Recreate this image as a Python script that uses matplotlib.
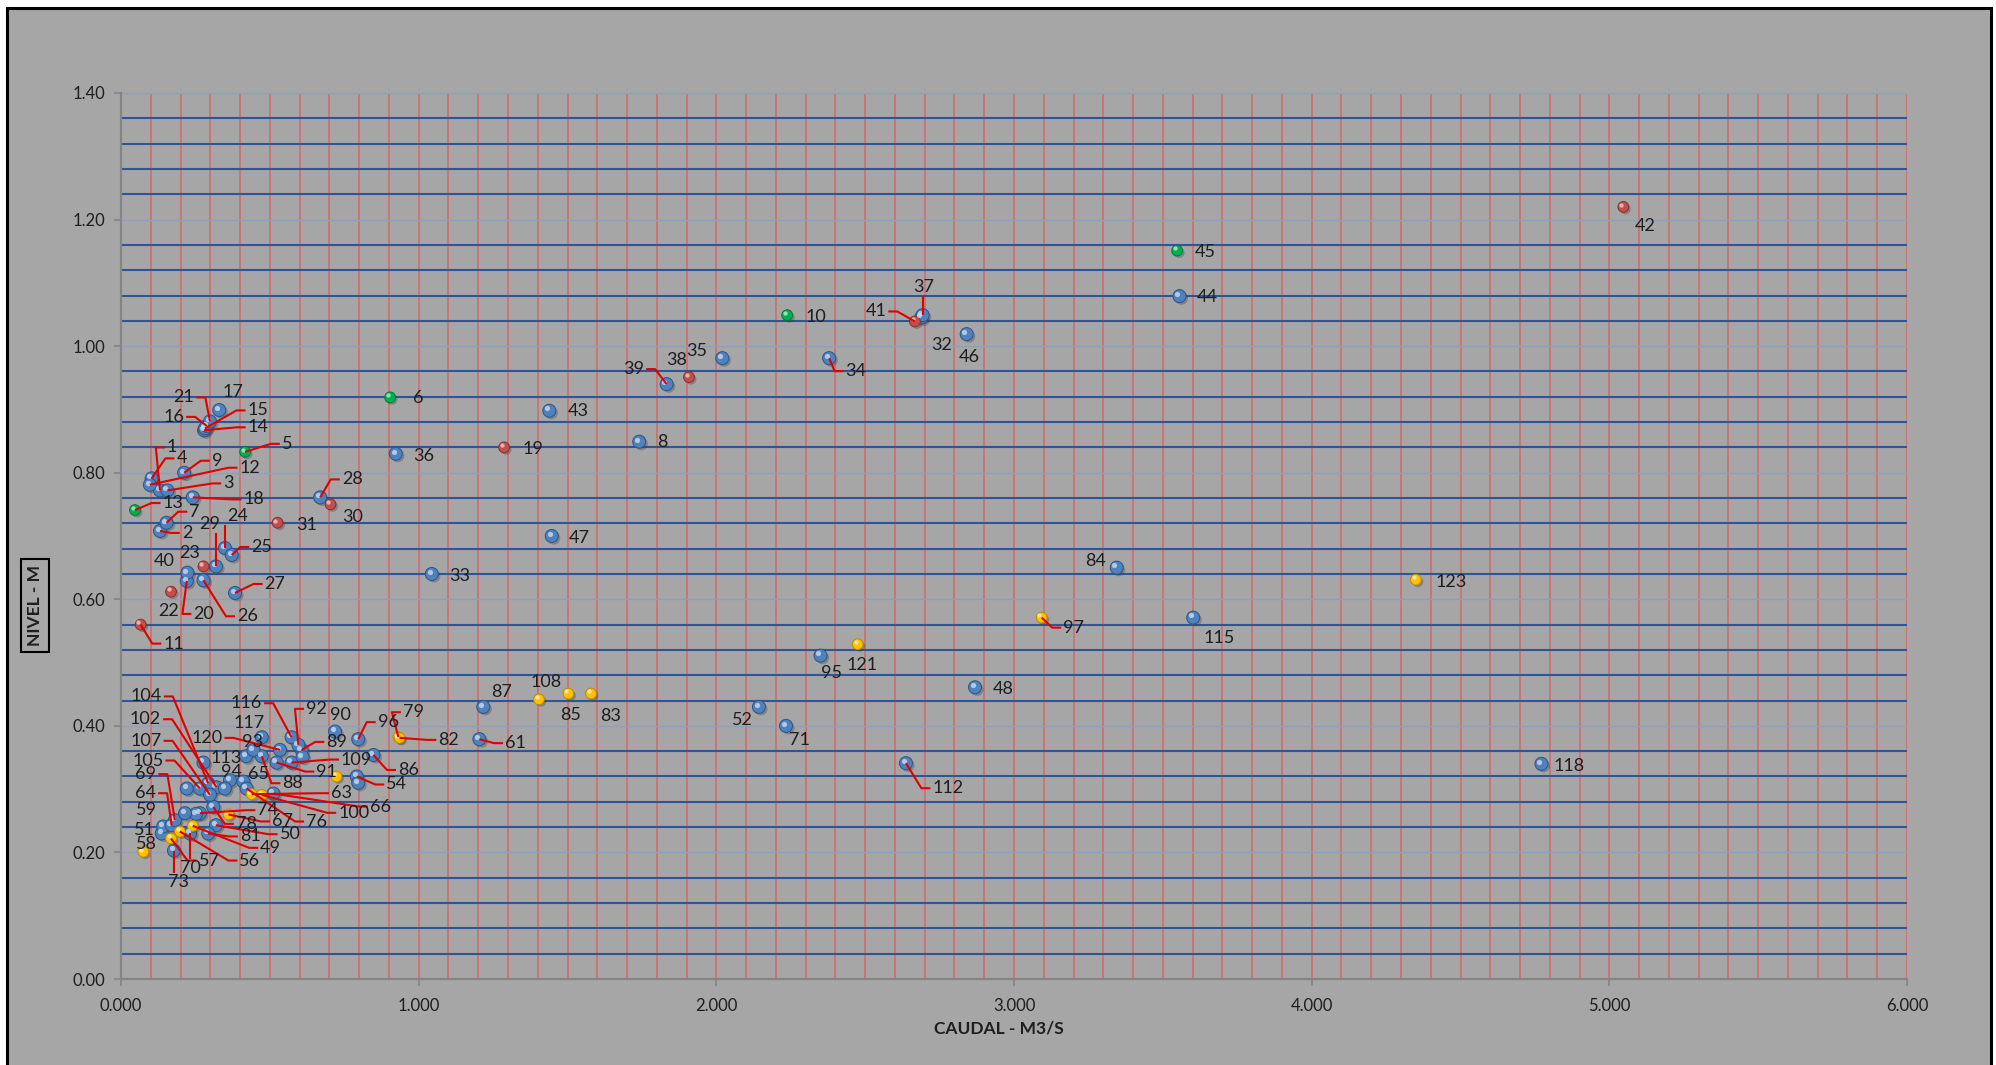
import matplotlib
matplotlib.use("Agg")
import matplotlib.pyplot as plt
import matplotlib.patheffects as pe
from matplotlib import font_manager
from matplotlib.patches import Rectangle
from matplotlib.ticker import MultipleLocator, FormatStrFormatter
from matplotlib.transforms import offset_copy

# aforos: numero de punto, caudal (m3/s), nivel (m) y grupo de color
ids = ["1", "2", "3", "4", "5", "6", "7", "8", "9", "10",
       "11", "12", "13", "14", "15", "16", "17", "18", "19", "20",
       "21", "22", "23", "24", "25", "26", "27", "28", "29", "30",
       "31", "32", "33", "34", "35", "36", "37", "38", "39", "40",
       "41", "42", "43", "44", "45", "46", "47", "48", "49", "50",
       "51", "52", "54", "56", "57", "58", "59", "61", "63", "64",
       "65", "66", "67", "69", "70", "71", "73", "74", "76", "78",
       "79", "81", "82", "83", "84", "85", "86", "87", "88", "89",
       "90", "91", "92", "93", "94", "95", "96", "97", "100", "102",
       "104", "105", "107", "108", "109", "112", "113", "115", "116", "117",
       "118", "120", "121", "123", "", "", "", "", "", "",
       "", ""]

caudal = [0.131, 0.131, 0.156, 0.103, 0.417, 0.904, 0.153, 1.741, 0.212, 2.238,
          0.066, 0.097, 0.047, 0.279, 0.282, 0.288, 0.330, 0.241, 1.287, 0.221,
          0.299, 0.168, 0.223, 0.349, 0.372, 0.277, 0.383, 0.669, 0.319, 0.704,
          0.526, 2.688, 1.044, 2.379, 2.020, 0.923, 2.693, 1.908, 1.833, 0.277,
          2.667, 5.047, 1.439, 3.556, 3.548, 2.841, 1.447, 2.869, 0.241, 0.319,
          0.137, 2.143, 0.792, 0.198, 0.168, 0.075, 0.142, 1.204, 0.439, 0.170,
          0.411, 0.512, 0.361, 0.181, 0.232, 2.234, 0.178, 0.265, 0.422, 0.310,
          0.932, 0.293, 0.936, 1.579, 3.345, 1.503, 0.848, 1.217, 0.473, 0.607,
          0.719, 0.523, 0.596, 0.420, 0.366, 2.350, 0.797, 3.093, 0.473, 0.321,
          0.293, 0.265, 0.299, 1.404, 0.573, 2.637, 0.277, 3.602, 0.573, 0.473,
          4.772, 0.534, 2.475, 4.350, 0.221, 0.349, 0.445, 0.610, 0.252, 0.215,
          0.724, 0.797]

nivel = [0.772, 0.708, 0.772, 0.791, 0.833, 0.919, 0.721, 0.849, 0.800, 1.049,
         0.560, 0.781, 0.741, 0.867, 0.870, 0.874, 0.899, 0.761, 0.840, 0.629,
         0.881, 0.612, 0.642, 0.681, 0.670, 0.630, 0.610, 0.761, 0.652, 0.750,
         0.721, 1.045, 0.640, 0.981, 0.981, 0.830, 1.049, 0.951, 0.940, 0.652,
         1.039, 1.220, 0.898, 1.079, 1.151, 1.019, 0.700, 0.461, 0.242, 0.243,
         0.230, 0.430, 0.320, 0.233, 0.222, 0.201, 0.241, 0.379, 0.292, 0.243,
         0.312, 0.293, 0.260, 0.251, 0.230, 0.400, 0.203, 0.262, 0.301, 0.272,
         0.382, 0.230, 0.381, 0.451, 0.650, 0.451, 0.354, 0.430, 0.352, 0.362,
         0.391, 0.342, 0.370, 0.352, 0.314, 0.511, 0.379, 0.571, 0.291, 0.303,
         0.309, 0.301, 0.291, 0.442, 0.342, 0.341, 0.342, 0.571, 0.382, 0.382,
         0.340, 0.362, 0.529, 0.631, 0.301, 0.301, 0.362, 0.351, 0.261, 0.262,
         0.320, 0.310]

grupo = ["azul", "azul", "azul", "azul", "verde", "verde", "azul", "azul", "azul", "verde",
         "rojo", "azul", "verde", "azul", "azul", "azul", "azul", "azul", "rojo", "azul",
         "azul", "rojo", "azul", "azul", "azul", "azul", "azul", "azul", "azul", "rojo",
         "rojo", "azul", "azul", "azul", "azul", "azul", "azul", "rojo", "azul", "rojo",
         "rojo", "rojo", "azul", "azul", "verde", "azul", "azul", "azul", "amarillo", "azul",
         "azul", "azul", "azul", "amarillo", "amarillo", "amarillo", "azul", "azul", "amarillo", "azul",
         "azul", "azul", "amarillo", "azul", "azul", "azul", "azul", "azul", "azul", "azul",
         "amarillo", "azul", "amarillo", "amarillo", "azul", "amarillo", "azul", "azul", "azul", "azul",
         "azul", "azul", "azul", "azul", "azul", "azul", "azul", "amarillo", "amarillo", "azul",
         "azul", "azul", "azul", "amarillo", "azul", "azul", "azul", "azul", "azul", "azul",
         "azul", "azul", "amarillo", "amarillo", "azul", "azul", "azul", "azul", "azul", "azul",
         "amarillo", "azul"]

# posicion de cada etiqueta respecto a su punto (pixeles) y si lleva linea guia
etiquetas = {
    "1": (12, 43, True), "2": (27, -2, True), "3": (61, 7, True), "4": (30, 20, True),
    "5": (42, 8, True), "6": (28, -1, False), "7": (28, 11, True), "8": (23, 0, False),
    "9": (33, 12, True), "10": (29, -2, False), "11": (33, -19, True), "12": (100, 17, True),
    "13": (38, 7, True), "14": (54, 3, True), "15": (53, 18, True), "16": (-33, 9, True),
    "17": (14, 18, False), "18": (61, -2, True), "19": (29, -2, False), "20": (17, -33, True),
    "21": (-26, 24, True), "22": (-2, -19, False), "23": (2, 20, False), "24": (13, 32, True),
    "25": (30, 8, True), "26": (44, -36, True), "27": (40, 9, True), "28": (32, 18, True),
    "29": (-6, 42, True), "30": (22, -13, False), "31": (29, -2, False), "32": (20, -27, False),
    "33": (28, -2, False), "34": (27, -13, True), "35": (-26, 7, False), "36": (28, -2, False),
    "37": (1, 28, True), "38": (-12, 17, False), "39": (-33, 15, True), "40": (-39, 5, False),
    "41": (-39, 10, True), "42": (22, -19, False), "43": (29, 0, False), "44": (28, -1, False),
    "45": (28, -1, False), "46": (3, -23, False), "47": (28, -2, False), "48": (28, -2, False),
    "49": (78, -22, True), "50": (74, -9, True), "51": (-17, 3, False), "52": (-16, -13, False),
    "54": (40, -8, True), "56": (70, -29, True), "57": (38, -22, True), "58": (3, 8, False),
    "59": (-17, 16, False), "61": (36, -4, True), "63": (90, 1, True), "64": (-26, 32, True),
    "65": (15, 8, False), "66": (107, -13, True), "67": (54, -7, True), "69": (-29, 46, True),
    "70": (0, -35, True), "71": (13, -14, False), "73": (5, -31, True), "74": (68, 3, True),
    "76": (70, -33, True), "78": (33, -17, True), "79": (15, 25, True), "81": (42, -3, True),
    "82": (49, -2, True), "83": (20, -22, False), "84": (-21, 7, False), "85": (2, -21, False),
    "86": (35, -15, True), "87": (18, 15, False), "88": (31, -27, True), "89": (35, 8, True),
    "90": (5, 17, False), "91": (50, -9, True), "92": (18, 36, True), "93": (6, 14, False),
    "94": (2, 8, False), "95": (11, -17, False), "96": (30, 17, True), "97": (32, -10, True),
    "100": (92, -18, True), "102": (-71, 68, True), "104": (-62, 87, True), "105": (-52, 28, True),
    "107": (-64, 54, True), "108": (7, 17, False), "109": (65, 3, True), "112": (42, -25, True),
    "113": (23, 5, False), "115": (26, -20, False), "116": (-45, 34, True), "117": (-13, 14, False),
    "118": (28, -2, False), "120": (-73, 12, True), "121": (4, -21, False), "123": (35, -2, False),
}

# color de cara, borde y brillo de cada grupo
estilo = {
    "azul": ("#4F81BD", "#2C5585", "#C9DCF3", 88),
    "rojo": ("#C0504D", "#8A2E2B", "#F3C9C8", 60),
    "verde": ("#00B050", "#00783A", "#B8F0CB", 60),
    "amarillo": ("#FFC000", "#C08A00", "#FFF0B0", 60),
}

nombres = {f.name for f in font_manager.fontManager.ttflist}
fuente = next((f for f in ["Lato", "Open Sans", "DejaVu Sans"] if f in nombres), "DejaVu Sans")
plt.rcParams["font.family"] = fuente

fig = plt.figure(figsize=(19.96, 10.65), dpi=100, facecolor="white")
fig.add_artist(Rectangle((7 / 1996, -0.05), (1991 - 7) / 1996, 1.05 - 8 / 1065,
                         transform=fig.transFigure, facecolor="#A6A6A6",
                         edgecolor="black", lw=2.2, zorder=0))

ax = fig.add_axes([121 / 1996, 1 - 979 / 1065, (1907 - 121) / 1996, (979 - 93) / 1065])
ax.set_facecolor("#A6A6A6")
ax.set_xlim(0, 6)
ax.set_ylim(0, 1.4)

ax.xaxis.set_major_locator(MultipleLocator(1))
ax.xaxis.set_minor_locator(MultipleLocator(0.1))
ax.yaxis.set_major_locator(MultipleLocator(0.2))
ax.yaxis.set_minor_locator(MultipleLocator(0.04))
ax.xaxis.set_major_formatter(FormatStrFormatter("%.3f"))
ax.yaxis.set_major_formatter(FormatStrFormatter("%.2f"))

ax.set_axisbelow(True)
ax.grid(which="both", axis="x", color="#D46868", lw=1.1)
ax.grid(which="minor", axis="y", color="#2F5597", lw=1.5)
ax.grid(which="major", axis="y", color="#8EA0BE", lw=1.0)

for lado in ["top", "right"]:
    ax.spines[lado].set_visible(False)
for lado in ["left", "bottom"]:
    ax.spines[lado].set_color("#858585")
    ax.spines[lado].set_linewidth(1.6)
ax.tick_params(which="major", length=5, width=1.2, color="#858585",
               labelsize=12, labelcolor="#1E1E1E")
ax.tick_params(which="minor", length=0)
ax.tick_params(axis="x", pad=9)
ax.tick_params(axis="y", pad=6)

ax.set_xlabel("CAUDAL - M3/S", fontsize=12.5, fontweight="bold", color="#1E1E1E")
ax.xaxis.set_label_coords(0.4916, -0.047)
ax.set_ylabel("NIVEL - M", fontsize=12.5, fontweight="bold", color="#1E1E1E",
              bbox=dict(boxstyle="square,pad=0.35", fc="none", ec="black", lw=1.5))
ax.yaxis.set_label_coords(-0.0435, 0.422)

# esferas: cuerpo con sombra y un brillo desplazado hacia arriba a la izquierda
brillo_tr = offset_copy(ax.transData, fig=fig, x=-2.2, y=2.2, units="dots")
for g, (cara, borde, luz, tam) in estilo.items():
    xs = [c for c, k in zip(caudal, grupo) if k == g]
    ys = [n for n, k in zip(nivel, grupo) if k == g]
    ax.scatter(xs, ys, s=tam, c=cara, edgecolors=borde, linewidths=0.7, zorder=4,
               path_effects=[pe.SimplePatchShadow(offset=(1.5, -1.5), alpha=0.35,
                                                  shadow_rgbFace="#404040"),
                             pe.Normal()])
    ax.scatter(xs, ys, s=tam * 0.16, c=luz, linewidths=0, alpha=0.8, zorder=4.5,
               transform=brillo_tr)

textos = []
for nombre, x, y in zip(ids, caudal, nivel):
    if nombre not in etiquetas:
        continue
    dx, dy, guia = etiquetas[nombre]
    t = ax.annotate(nombre, xy=(x, y), xytext=(dx, dy), textcoords="offset pixels",
                    ha="center", va="center", fontsize=13, color="#1E1E1E", zorder=5)
    if guia:
        textos.append((t, x, y))

# lineas guia: tramo horizontal corto junto a la etiqueta y luego recto hasta el punto
fig.canvas.draw()
inv = ax.transData.inverted()
for t, x, y in textos:
    caja = t.get_window_extent()
    px, py = ax.transData.transform((x, y))
    ym = (caja.y0 + caja.y1) / 2
    if caja.x0 - 3 <= px <= caja.x1 + 3:
        borde_y = caja.y0 - 1 if py < caja.y0 else caja.y1 + 1
        tramo = [(px, borde_y), (px, borde_y), (px, py)]
    elif px < caja.x0:
        tramo = [(caja.x0 - 2, ym), (caja.x0 - 11, ym), (px, py)]
    else:
        tramo = [(caja.x1 + 2, ym), (caja.x1 + 11, ym), (px, py)]
    pts = inv.transform(tramo)
    ax.plot(pts[:, 0], pts[:, 1], color="#E00000", lw=1.5, zorder=4.8,
            solid_capstyle="butt")

fig.savefig("out.png", dpi=100, facecolor=fig.get_facecolor())
